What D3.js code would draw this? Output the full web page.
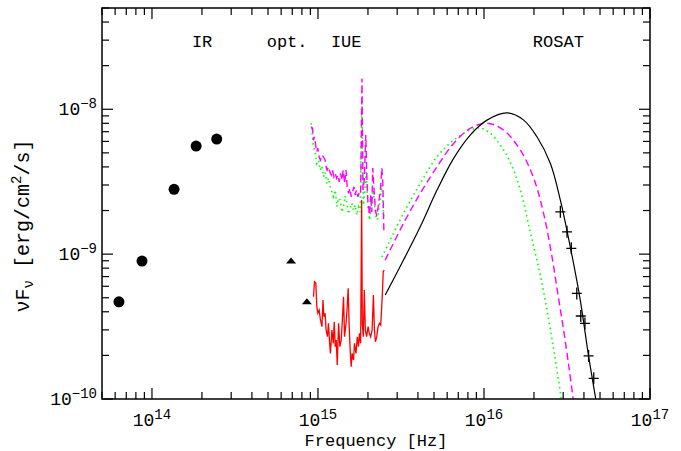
<!DOCTYPE html>
<html>
<head>
<meta charset="utf-8">
<script src="https://cdn.jsdelivr.net/npm/d3@7"></script>
<style>
  body { margin: 0; background: #fff; }
  text { font-family: "Liberation Mono", "DejaVu Sans Mono", monospace; fill: #000; }
</style>
</head>
<body>
<svg id="chart" width="681" height="451"></svg>
<script>
"use strict";

// all values are log10(nu / Hz) and log10(nuFnu / erg cm^-2 s^-1)
var irLogNu = [13.801, 13.940, 14.133, 14.266, 14.390];
var irLogF = [-9.329, -9.048, -8.553, -8.254, -8.206];

var optLogNu = [14.838, 14.933];
var optLogF = [-9.048, -9.329];

var rosatLogNu = [16.460, 16.500, 16.526, 16.559, 16.583, 16.608, 16.630, 16.661];
var rosatLogF = [-8.708, -8.846, -8.960, -9.271, -9.427, -9.478, -9.703, -9.857];

// IUE spectrum, observed (red)
var iueRed = [
  [14.973, -9.294], [14.979, -9.191], [14.987, -9.200], [14.993, -9.363], [14.999, -9.407],
  [15.007, -9.386], [15.015, -9.455], [15.024, -9.501], [15.030, -9.317], [15.036, -9.432],
  [15.043, -9.409], [15.049, -9.524], [15.057, -9.570], [15.063, -9.478], [15.069, -9.593],
  [15.075, -9.685], [15.084, -9.524], [15.092, -9.616], [15.098, -9.467], [15.104, -9.639],
  [15.110, -9.593], [15.116, -9.765], [15.124, -9.478], [15.132, -9.639], [15.140, -9.593],
  [15.148, -9.432], [15.154, -9.294], [15.160, -9.570], [15.169, -9.478], [15.176, -9.363],
  [15.182, -9.236], [15.188, -9.501], [15.194, -9.662], [15.200, -9.777], [15.206, -9.685],
  [15.214, -9.731], [15.220, -9.616], [15.229, -9.685], [15.237, -9.570], [15.244, -9.639],
  [15.250, -9.547], [15.257, -9.616], [15.263, -8.627], [15.267, -9.478], [15.273, -9.570],
  [15.279, -9.248], [15.285, -9.524], [15.293, -9.570], [15.302, -9.501], [15.309, -9.547],
  [15.317, -9.570], [15.326, -9.524], [15.334, -9.282], [15.340, -9.524], [15.346, -9.605],
  [15.354, -9.570], [15.362, -9.501], [15.370, -9.478], [15.378, -9.489], [15.387, -9.294],
  [15.393, -9.122], [15.399, -9.110]
];

// IUE spectrum, dereddened (magenta dashed)
var iueMagenta = [
  [14.959, -8.121], [14.967, -8.130], [14.973, -8.213], [14.979, -8.190], [14.987, -8.259],
  [14.993, -8.294], [14.999, -8.268], [15.007, -8.328], [15.015, -8.351], [15.024, -8.316],
  [15.033, -8.328], [15.043, -8.351], [15.049, -8.397], [15.055, -8.420], [15.063, -8.397],
  [15.072, -8.432], [15.080, -8.454], [15.087, -8.420], [15.096, -8.466], [15.104, -8.443],
  [15.112, -8.477], [15.120, -8.454], [15.128, -8.501], [15.136, -8.443], [15.144, -8.489],
  [15.152, -8.420], [15.160, -8.512], [15.169, -8.420], [15.176, -8.535], [15.184, -8.581],
  [15.193, -8.546], [15.200, -8.604], [15.208, -8.570], [15.217, -8.535], [15.224, -8.592],
  [15.232, -8.558], [15.241, -8.604], [15.249, -8.570], [15.257, -8.581], [15.265, -7.787],
  [15.271, -8.558], [15.279, -8.489], [15.288, -8.178], [15.294, -8.454], [15.300, -8.627],
  [15.311, -8.730], [15.318, -8.592], [15.324, -8.710], [15.330, -8.406], [15.336, -8.523],
  [15.346, -8.696], [15.354, -8.737], [15.364, -8.661], [15.376, -8.558], [15.385, -8.406],
  [15.391, -8.523], [15.397, -8.848]
];

// IUE spectrum, alternative dereddening (green dotted)
var iueGreen = [
  [14.959, -8.096], [14.973, -8.259], [14.983, -8.296], [14.993, -8.374], [15.004, -8.351],
  [15.013, -8.420], [15.024, -8.392], [15.033, -8.466], [15.043, -8.434], [15.053, -8.512],
  [15.063, -8.475], [15.073, -8.535], [15.084, -8.572], [15.093, -8.604], [15.104, -8.558],
  [15.114, -8.673], [15.124, -8.613], [15.134, -8.627], [15.144, -8.710], [15.154, -8.673],
  [15.164, -8.599], [15.174, -8.650], [15.184, -8.723], [15.194, -8.684], [15.204, -8.648],
  [15.214, -8.696], [15.224, -8.661], [15.234, -8.730], [15.244, -8.675], [15.254, -8.710],
  [15.265, -7.971], [15.273, -8.661], [15.282, -8.558], [15.291, -8.434], [15.300, -8.661],
  [15.311, -8.765], [15.321, -8.661], [15.334, -8.558], [15.346, -8.730], [15.358, -8.765],
  [15.370, -8.661], [15.385, -8.523], [15.397, -8.751]
];

// model curves
var modelBlack = [
  [15.405, -9.282], [15.515, -9.041], [15.616, -8.811], [15.717, -8.558], [15.817, -8.339],
  [15.917, -8.178], [16.018, -8.075], [16.139, -8.025], [16.239, -8.075], [16.319, -8.190],
  [16.400, -8.374], [16.460, -8.627], [16.520, -8.951], [16.580, -9.317], [16.629, -9.696],
  [16.671, -9.986], [16.683, -10.076]
];
var modelMagenta = [
  [15.405, -9.041], [15.515, -8.788], [15.616, -8.581], [15.717, -8.397], [15.817, -8.236],
  [15.917, -8.132], [16.018, -8.096], [16.118, -8.144], [16.219, -8.282], [16.299, -8.475],
  [16.359, -8.719], [16.406, -8.994], [16.448, -9.296], [16.484, -9.558], [16.514, -9.800],
  [16.538, -10.007]
];
var modelGreen = [
  [15.385, -9.020], [15.515, -8.719], [15.616, -8.512], [15.717, -8.328], [15.817, -8.213],
  [15.917, -8.144], [15.978, -8.130], [16.038, -8.165], [16.098, -8.247], [16.158, -8.365],
  [16.219, -8.558], [16.279, -8.848], [16.339, -9.144], [16.388, -9.441], [16.430, -9.731],
  [16.466, -10.000]
];

var bandLabels = ["IR", "opt.", "IUE", "ROSAT"];
var bandLogNu = [14.302, 14.814, 15.170, 16.448];

var xDomain = [5e13, 1e17];
var yDomain = [1e-10, 5e-8];

var svg = d3.select("#chart");
var plotLeft = 102, plotRight = 650, plotTop = 8, plotBottom = 399;

var x = d3.scaleLog().domain(xDomain).range([plotLeft, plotRight]);
var y = d3.scaleLog().domain(yDomain).range([plotBottom, plotTop]);

function px(v) { return x(Math.pow(10, v)); }
function py(v) { return y(Math.pow(10, v)); }

svg.append("clipPath").attr("id", "plotclip")
   .append("rect").attr("x", plotLeft).attr("y", plotTop)
   .attr("width", plotRight - plotLeft).attr("height", plotBottom - plotTop);

var plot = svg.append("g").attr("clip-path", "url(#plotclip)");

var line = d3.line().x(function (d) { return px(d[0]); }).y(function (d) { return py(d[1]); });
var smooth = d3.line().x(function (d) { return px(d[0]); }).y(function (d) { return py(d[1]); })
   .curve(d3.curveCatmullRom.alpha(0.5));

// spectra
plot.append("path").attr("d", line(iueGreen)).attr("fill", "none")
   .attr("stroke", "#00ff00").attr("stroke-width", 1.6).attr("stroke-dasharray", "1.5,3.5");
plot.append("path").attr("d", line(iueMagenta)).attr("fill", "none")
   .attr("stroke", "#ff00ff").attr("stroke-width", 1.4).attr("stroke-dasharray", "7,4");
plot.append("path").attr("d", line(iueRed)).attr("fill", "none")
   .attr("stroke", "#ff0000").attr("stroke-width", 1.3);

// models
plot.append("path").attr("d", smooth(modelGreen)).attr("fill", "none")
   .attr("stroke", "#00ff00").attr("stroke-width", 1.6).attr("stroke-dasharray", "1.5,3.5");
plot.append("path").attr("d", smooth(modelMagenta)).attr("fill", "none")
   .attr("stroke", "#ff00ff").attr("stroke-width", 1.4).attr("stroke-dasharray", "7,4");
plot.append("path").attr("d", smooth(modelBlack)).attr("fill", "none")
   .attr("stroke", "#000").attr("stroke-width", 1.2);

// IR photometry
plot.selectAll(".ir").data(d3.range(irLogNu.length)).enter().append("circle")
   .attr("class", "ir")
   .attr("cx", function (i) { return px(irLogNu[i]); })
   .attr("cy", function (i) { return py(irLogF[i]); })
   .attr("r", 5.5).attr("fill", "#000");

// optical photometry
plot.selectAll(".opt").data(d3.range(optLogNu.length)).enter().append("path")
   .attr("class", "opt")
   .attr("transform", function (i) { return "translate(" + px(optLogNu[i]) + "," + py(optLogF[i]) + ")"; })
   .attr("d", "M-5,2.5L0,-3.5L5,2.5Z").attr("fill", "#000");

// ROSAT points
var ros = plot.selectAll(".rosat").data(d3.range(rosatLogNu.length)).enter().append("g")
   .attr("class", "rosat")
   .attr("transform", function (i) { return "translate(" + px(rosatLogNu[i]) + "," + py(rosatLogF[i]) + ")"; });
ros.append("path").attr("d", "M-5,0H5M0,-6V6").attr("stroke", "#000").attr("stroke-width", 1.3);

// frame and ticks
svg.append("rect").attr("x", plotLeft).attr("y", plotTop)
   .attr("width", plotRight - plotLeft).attr("height", plotBottom - plotTop)
   .attr("fill", "none").attr("stroke", "#000").attr("stroke-width", 1.5);

function isMajor(v) { return Math.abs(Math.log10(v) - Math.round(Math.log10(v))) < 1e-6; }

var ticks = svg.append("g").attr("stroke", "#000").attr("stroke-width", 1.2);
x.ticks().forEach(function (v) {
   var len = isMajor(v) ? 11 : 7;
   var xx = x(v);
   ticks.append("line").attr("x1", xx).attr("x2", xx).attr("y1", plotBottom).attr("y2", plotBottom - len);
   ticks.append("line").attr("x1", xx).attr("x2", xx).attr("y1", plotTop).attr("y2", plotTop + len);
});
y.ticks().forEach(function (v) {
   var len = isMajor(v) ? 11 : 7;
   var yy = y(v);
   ticks.append("line").attr("y1", yy).attr("y2", yy).attr("x1", plotLeft).attr("x2", plotLeft + len);
   ticks.append("line").attr("y1", yy).attr("y2", yy).attr("x1", plotRight).attr("x2", plotRight - len);
});

function powLabel(sel, v) {
   var e = Math.round(Math.log10(v));
   sel.append("tspan").text("10");
   sel.append("tspan").attr("font-size", 14).attr("dy", -7)
      .text(e < 0 ? "\u2212" + (-e) : String(e));
}

x.ticks().filter(isMajor).forEach(function (v) {
   var t = svg.append("text").attr("x", x(v)).attr("y", 426)
      .attr("text-anchor", "middle").attr("font-size", 18);
   powLabel(t, v);
});
y.ticks().filter(isMajor).forEach(function (v) {
   var t = svg.append("text").attr("x", 97).attr("y", y(v) + 6)
      .attr("text-anchor", "end").attr("font-size", 18);
   powLabel(t, v);
});

// axis titles
svg.append("text").attr("x", 376).attr("y", 446).attr("text-anchor", "middle")
   .attr("font-size", 17).text("Frequency [Hz]");

var yl = svg.append("text").attr("transform", "translate(29,226) rotate(-90)")
   .attr("text-anchor", "middle").attr("font-size", 20);
yl.append("tspan").text("\u03bdF");
yl.append("tspan").attr("font-size", 14).attr("dy", 4).text("\u03bd");
yl.append("tspan").attr("dy", -4).text("  [erg/cm");
yl.append("tspan").attr("font-size", 14).attr("dy", -8).text("2");
yl.append("tspan").attr("dy", 8).text("/s]");

// band labels
svg.selectAll(".band").data(bandLabels).enter().append("text")
   .attr("class", "band")
   .attr("x", function (d, i) { return px(bandLogNu[i]); })
   .attr("y", 47).attr("text-anchor", "middle").attr("font-size", 17)
   .text(function (d) { return d; });
</script>
</body>
</html>
